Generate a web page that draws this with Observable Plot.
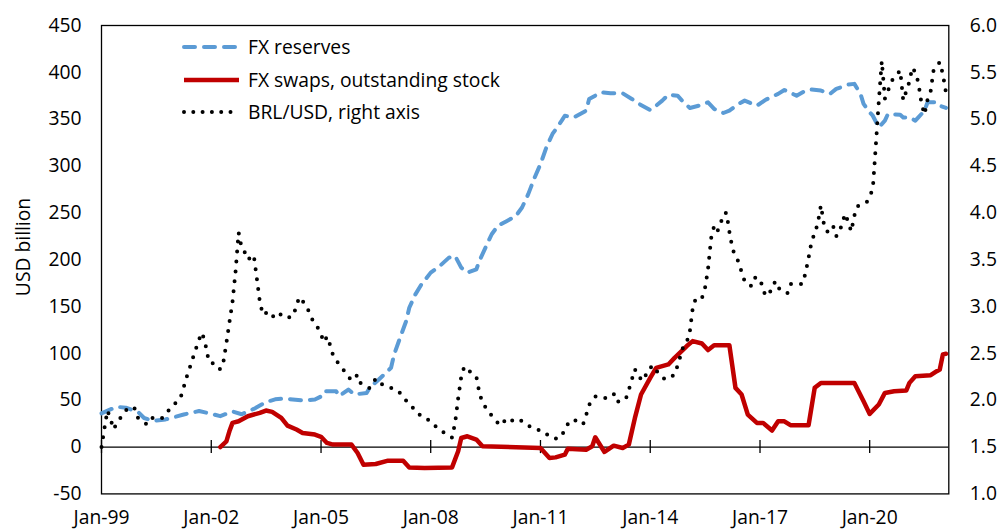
<!DOCTYPE html>
<html>
<head>
<meta charset="utf-8">
<script src="https://cdn.jsdelivr.net/npm/d3@7"></script>
<script src="https://cdn.jsdelivr.net/npm/@observablehq/plot@0.6"></script>
<style>
  html, body { margin: 0; padding: 0; background: #fff; }
  #wrap { position: relative; width: 1000px; height: 531px; font-family: "Open Sans", sans-serif; }
  #legend { position: absolute; left: 181px; top: 0; }
  .row { position: absolute; left: 0; height: 30px; width: 400px; white-space: nowrap; }
  .row svg { position: absolute; left: 0; top: 0; }
  .row span { position: absolute; left: 67px; top: 50%; transform: translateY(-52%); font-size: 19.3px; color: #000; }
  #ylab { position: absolute; left: 22px; top: 247px; transform: translate(-50%, -50%) rotate(-90deg); font-size: 19.3px; white-space: nowrap; }
</style>
</head>
<body>
<div id="wrap">
  <div id="chart"></div>
  <div id="ylab">USD billion</div>
  <div id="legend"></div>
</div>
<script>
// ---- Data ----
const reservesDates = ["1999-01","1999-06","1999-09","2000-01","2000-03","2000-06","2000-10","2001-04","2001-09","2002-01","2002-04","2002-08","2002-11","2003-03","2003-07","2003-10","2004-01","2004-07","2004-11","2005-01","2005-02","2005-06","2005-07","2005-10","2005-12","2006-04","2006-05","2006-08","2006-12","2007-01","2007-03","2007-05","2007-06","2007-08","2007-10","2008-01","2008-04","2008-07","2008-09","2008-11","2009-01","2009-04","2009-05","2009-07","2009-09","2009-11","2010-02","2010-05","2010-07","2010-09","2010-11","2011-01","2011-03","2011-05","2011-08","2011-09","2011-12","2012-04","2012-05","2012-09","2012-12","2013-04","2013-07","2013-09","2014-01","2014-03","2014-05","2014-07","2014-10","2014-12","2015-02","2015-05","2015-08","2015-10","2016-01","2016-03","2016-06","2016-08","2016-12","2017-03","2017-07","2017-09","2018-01","2018-04","2018-06","2018-09","2018-12","2019-02","2019-06","2019-08","2019-10","2019-11","2020-01","2020-02","2020-04","2020-06","2020-07","2020-11","2020-12","2021-02","2021-04","2021-05","2021-07","2021-08","2021-11","2021-12","2022-02"];
const reservesValues = [36,43,42,37.5,31,28,29.5,34.7,38.5,35.5,33,38,35,40.7,47.9,51,51.8,49.7,50.7,54,59.6,59.6,54.3,61.4,56.1,57.8,63.2,72.1,84.6,98.9,116.6,134.5,148.7,163,173.7,186.2,193.3,202.2,204,191.5,186.2,189.8,198.7,212.9,227.2,236.1,241.4,246.8,255.7,270,287,302,319.9,334.2,348.4,353.7,351.9,359.1,371.6,378.7,377.6,377.6,371.6,366.9,359.8,364.4,369.8,376.2,375.1,368,362,364.4,368,360.9,356.6,359.1,366.3,369.8,364.4,370.9,377,381.2,375.1,380.5,381.6,380.5,377,382.3,386.9,387.7,377,366.3,357.3,353.7,341.2,348.4,355.5,354.8,351.9,351.9,348.4,351.9,359.1,368,368,364.4,362];

const swapsDates = ["2002-04","2002-06","2002-07","2002-08","2002-10","2003-01","2003-05","2003-07","2003-09","2003-12","2004-02","2004-05","2004-07","2004-11","2005-01","2005-03","2005-05","2005-11","2006-01","2006-03","2006-07","2006-11","2007-04","2007-06","2007-11","2008-08","2008-10","2008-11","2009-01","2009-04","2009-06","2011-01","2011-04","2011-06","2011-09","2011-10","2012-04","2012-06","2012-07","2012-10","2013-01","2013-04","2013-06","2013-08","2013-10","2014-01","2014-03","2014-07","2014-09","2015-01","2015-03","2015-06","2015-08","2015-10","2016-03","2016-05","2016-07","2016-09","2016-12","2017-02","2017-05","2017-07","2017-09","2017-11","2018-05","2018-07","2018-09","2019-08","2019-11","2020-01","2020-04","2020-06","2020-09","2021-01","2021-02","2021-04","2021-09","2021-11","2021-12","2022-01","2022-02"];
const swapsValues = [0,6,16.8,25.8,27.5,32.9,36.5,39,37.5,31.1,22.9,18.7,15.1,13.3,11,4.4,2.6,2.6,-6.3,-18.8,-18.1,-14.5,-14.5,-21.7,-22.4,-21.7,-4.5,9.7,11.5,8,0.8,-1,-11.7,-11,-8.1,-1.7,-2.8,0.8,10.4,-5.2,1.5,-1,2.6,31.1,56.1,73.9,84.6,88.2,95.2,107.8,113.1,110.6,103.5,108.8,108.8,63.2,56.1,34.7,25.8,25.8,17.6,27.5,27.5,23.3,23.3,63.2,68.5,68.5,48.9,35.4,45.4,57.8,59.6,60.4,68.5,75.7,76.7,81,82.8,98.9,99.6];

const brlDates = ["1999-01","1999-02","1999-03","1999-04","1999-05","1999-06","1999-08","1999-10","1999-12","2000-01","2000-04","2000-06","2000-09","2000-11","2001-01","2001-03","2001-04","2001-05","2001-06","2001-07","2001-08","2001-09","2001-10","2001-11","2001-12","2002-01","2002-02","2002-04","2002-05","2002-06","2002-07","2002-08","2002-09","2002-10","2002-11","2002-12","2003-01","2003-03","2003-04","2003-05","2003-06","2003-08","2003-10","2003-12","2004-02","2004-04","2004-05","2004-06","2004-07","2004-09","2004-10","2004-12","2005-01","2005-02","2005-03","2005-04","2005-05","2005-07","2005-09","2005-11","2006-01","2006-02","2006-05","2006-07","2006-09","2006-11","2007-02","2007-04","2007-06","2007-08","2007-10","2008-01","2008-03","2008-06","2008-08","2008-09","2008-10","2008-11","2008-12","2009-01","2009-04","2009-05","2009-06","2009-08","2009-10","2009-12","2010-02","2010-04","2010-06","2010-08","2010-11","2011-02","2011-04","2011-06","2011-08","2011-09","2011-11","2012-01","2012-03","2012-04","2012-05","2012-07","2012-10","2013-01","2013-02","2013-05","2013-06","2013-07","2013-08","2013-09","2013-11","2013-12","2014-02","2014-04","2014-06","2014-09","2014-10","2014-11","2014-12","2015-01","2015-02","2015-03","2015-04","2015-06","2015-07","2015-08","2015-09","2015-10","2015-11","2015-12","2016-01","2016-02","2016-03","2016-04","2016-05","2016-06","2016-07","2016-08","2016-09","2016-10","2016-11","2017-01","2017-02","2017-03","2017-05","2017-06","2017-07","2017-10","2017-11","2018-03","2018-04","2018-05","2018-06","2018-07","2018-08","2018-09","2018-10","2018-11","2018-12","2019-01","2019-02","2019-03","2019-04","2019-05","2019-06","2019-07","2019-08","2019-09","2019-11","2019-12","2020-02","2020-03","2020-04","2020-05","2020-06","2020-07","2020-08","2020-09","2020-11","2020-12","2021-02","2021-03","2021-04","2021-05","2021-06","2021-07","2021-08","2021-09","2021-10","2021-12","2022-01","2022-02"];
const brlValues = [1.50,1.71,1.89,1.80,1.69,1.75,1.85,1.93,1.91,1.81,1.74,1.82,1.81,1.89,1.96,2.03,2.14,2.25,2.35,2.45,2.55,2.65,2.72,2.61,2.45,2.39,2.40,2.33,2.40,2.61,2.83,3.05,3.38,3.79,3.62,3.58,3.50,3.55,3.30,3.05,2.91,2.95,2.87,2.92,2.88,2.90,3.02,3.10,3.06,2.95,2.87,2.77,2.70,2.62,2.68,2.59,2.48,2.38,2.30,2.21,2.27,2.18,2.13,2.23,2.17,2.14,2.11,2.04,1.95,1.90,1.82,1.78,1.71,1.64,1.60,1.76,2.02,2.25,2.36,2.33,2.25,2.08,1.97,1.88,1.79,1.73,1.81,1.78,1.80,1.75,1.69,1.67,1.61,1.59,1.61,1.70,1.79,1.78,1.74,1.84,1.95,2.04,2.02,2.07,1.98,2.01,2.11,2.22,2.33,2.25,2.21,2.32,2.37,2.27,2.22,2.27,2.37,2.48,2.59,2.62,2.74,2.98,3.09,3.09,3.19,3.40,3.73,3.86,3.80,3.87,3.99,4.00,3.80,3.62,3.53,3.48,3.37,3.27,3.24,3.22,3.31,3.30,3.18,3.11,3.18,3.27,3.20,3.14,3.24,3.24,3.36,3.52,3.70,3.78,3.89,4.08,3.88,3.80,3.80,3.86,3.75,3.78,3.89,3.99,3.90,3.80,3.97,4.07,4.10,4.11,4.25,4.70,5.19,5.62,5.22,5.30,5.40,5.44,5.52,5.20,5.40,5.55,5.50,5.39,5.17,5.05,5.21,5.30,5.53,5.61,5.48,5.28];

const xTickDates = ["1999-01","2002-01","2005-01","2008-01","2011-01","2014-01","2017-01","2020-01"];
const leftTicks = [-50, 0, 50, 100, 150, 200, 250, 300, 350, 400, 450];
const rightTicks = [1.0, 1.5, 2.0, 2.5, 3.0, 3.5, 4.0, 4.5, 5.0, 5.5, 6.0];
const xDomain = ["1999-01", "2022-03"];

const seriesNames = ["FX reserves", "FX swaps, outstanding stock", "BRL/USD, right axis"];

// ---- Build ----
const parse = d3.utcParse("%Y-%m");
const leftDomain = [leftTicks[0], leftTicks[leftTicks.length - 1]];
const rightDomain = [rightTicks[0], rightTicks[rightTicks.length - 1]];
// map right-axis values onto the left scale (dual axis)
const rightToLeft = d3.scaleLinear().domain(rightDomain).range(leftDomain);

const reserves = reservesDates.map((d, i) => ({date: parse(d), value: reservesValues[i]}));
const swaps = swapsDates.map((d, i) => ({date: parse(d), value: swapsValues[i]}));
const brl = brlDates.map((d, i) => ({date: parse(d), value: rightToLeft(brlValues[i])}));
const xTicks = xTickDates.map(parse);

const BLUE = "#5B9BD5", RED = "#C00000", BLACK = "#000";
const FONT = "'Open Sans', sans-serif";

const chart = Plot.plot({
  width: 1000,
  height: 531,
  marginLeft: 101,
  marginRight: 51.7,
  marginTop: 25,
  marginBottom: 37.6,
  style: {fontFamily: FONT, fontSize: "19.3px", color: "#000", background: "#fff"},
  x: {type: "utc", domain: xDomain.map(parse)},
  y: {domain: leftDomain},
  marks: [
    Plot.frame({stroke: BLACK, strokeWidth: 1.3}),
    Plot.ruleY([0], {stroke: BLACK, strokeWidth: 1.3}),
    Plot.ruleX(xTicks, {x: d => d, y1: -7, y2: 7, stroke: BLACK, strokeWidth: 1.3}),
    Plot.axisY({ticks: leftTicks, tickSize: 0, tickPadding: 20, label: null, tickFormat: d => String(d)}),
    Plot.axisY({anchor: "right", ticks: rightTicks.map(rightToLeft), tickSize: 0, tickPadding: 21, label: null,
      tickFormat: d => rightToLeft.invert(d).toFixed(1)}),
    Plot.axisX({ticks: xTicks, tickSize: 0, tickPadding: 16, label: null, tickFormat: d3.utcFormat("%b-%y")}),
    Plot.line(reserves, {x: "date", y: "value", stroke: BLUE, strokeWidth: 4, strokeDasharray: "11 9", strokeLinecap: "round", strokeLinejoin: "round"}),
    Plot.line(swaps, {x: "date", y: "value", stroke: RED, strokeWidth: 4.5, strokeLinejoin: "round"}),
    Plot.line(brl, {x: "date", y: "value", stroke: BLACK, strokeWidth: 4, strokeDasharray: "0 10", strokeLinecap: "round", strokeLinejoin: "round"})
  ]
});
document.getElementById("chart").appendChild(chart);

// ---- Legend ----
const legendStyles = [
  {stroke: BLUE, width: 4, dash: "11 9", cap: "round"},
  {stroke: RED, width: 4.5, dash: null, cap: "butt"},
  {stroke: BLACK, width: 4, dash: "0 9.3", cap: "round"}
];
const rowCenters = [46.5, 79.5, 111.5];
const legend = document.getElementById("legend");
seriesNames.forEach((name, i) => {
  const row = document.createElement("div");
  row.className = "row";
  row.style.top = (rowCenters[i] - 15) + "px";
  const s = legendStyles[i];
  row.innerHTML = `<svg width="62" height="30"><line x1="3" x2="58" y1="15" y2="15" stroke="${s.stroke}" stroke-width="${s.width}" stroke-linecap="${s.cap}" ${s.dash ? `stroke-dasharray="${s.dash}"` : ""}/></svg><span>${name}</span>`;
  legend.appendChild(row);
});
</script>
</body>
</html>
